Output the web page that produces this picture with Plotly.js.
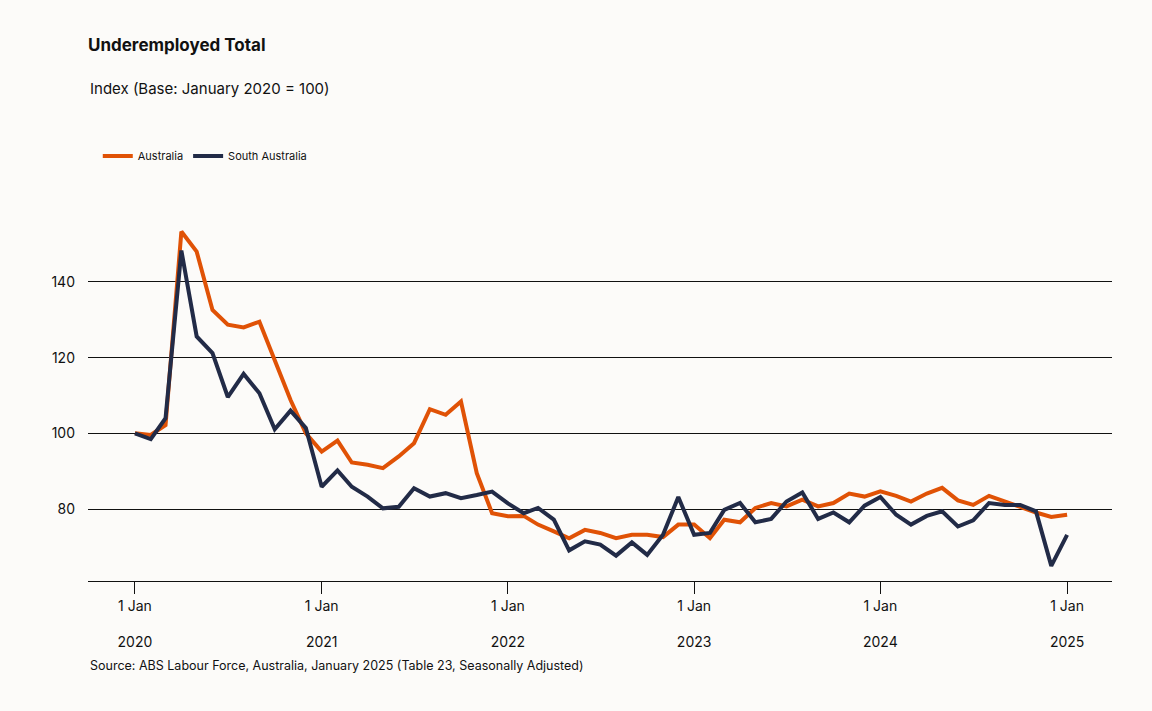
<!DOCTYPE html>
<html>
<head>
<meta charset="utf-8">
<script src="https://cdn.plot.ly/plotly-3.0.1.min.js"></script>
<style>
  body { margin: 0; background: #fcfbf9; }
  #chart { width: 1152px; height: 711px; }
</style>
</head>
<body>
<div id="chart"></div>
<script>
// Monthly, Jan 2020 to Jan 2025
const months = [];
for (let y = 2020; y <= 2025; y++) {
    for (let m = 1; m <= 12; m++) {
        if (y === 2025 && m > 1) break;
        months.push(`${y}-${String(m).padStart(2, '0')}-01`);
    }
}

const australia = [
    100, 99.6, 102.2, 153.3, 148, 132.6, 128.7, 128, 129.5, 119.4, 108.8, 100,
    95.2, 98.1, 92.3, 91.7, 90.8, 93.9, 97.4, 106.4, 104.9, 108.4, 89.5, 78.9,
    78.1, 78.2, 75.9, 74.1, 72.3, 74.5, 73.7, 72.3, 73.2, 73.2, 72.6, 75.9,
    75.9, 72.3, 77.2, 76.5, 80.3, 81.6, 80.7, 82.5, 80.7, 81.6, 84.1, 83.3,
    84.7, 83.5, 82, 84.1, 85.6, 82.3, 81.1, 83.5, 82, 80.7, 79.1, 77.9,
    78.5,
];
const southAustralia = [
    100, 98.5, 104, 148.3, 125.6, 121.2, 109.6, 115.7, 110.6, 101.1, 106, 101.4,
    85.9, 90.2, 85.9, 83.3, 80.2, 80.6, 85.5, 83.3, 84.2, 82.9, 83.7, 84.6,
    81.5, 78.9, 80.3, 77.2, 69.1, 71.5, 70.6, 67.7, 71.2, 67.9, 73.2, 83.2,
    73.2, 73.7, 79.8, 81.6, 76.5, 77.4, 82, 84.4, 77.4, 79.1, 76.5, 80.9,
    83.2, 78.5, 75.9, 78.2, 79.4, 75.4, 77, 81.6, 81.1, 81.1, 79.4, 65,
    73.2,
];

const tickDates = ['2020-01-01', '2021-01-01', '2022-01-01', '2023-01-01', '2024-01-01', '2025-01-01'];
const tickLabels = ['1 Jan<br><br>2020', '1 Jan<br><br>2021', '1 Jan<br><br>2022', '1 Jan<br><br>2023', '1 Jan<br><br>2024', '1 Jan<br><br>2025'];
const yTicks = [80, 100, 120, 140];

const font = 'Inter, "DejaVu Sans", sans-serif';

Plotly.newPlot(
    'chart',
    [
        {
            x: months,
            y: australia,
            mode: 'lines',
            name: 'Australia',
            line: { color: '#e05206', width: 4 },
        },
        {
            x: months,
            y: southAustralia,
            mode: 'lines',
            name: 'South Australia',
            line: { color: '#222b47', width: 4 },
        },
    ],
    {
        width: 1152,
        height: 711,
        paper_bgcolor: '#fcfbf9',
        plot_bgcolor: '#fcfbf9',
        font: { family: font, color: '#111', size: 14 },
        margin: { t: 210, b: 130, l: 88, r: 40 },
        title: {
            text: '<b>Underemployed Total</b>',
            x: 88 / 1152, xanchor: 'left',
            y: 1 - 45 / 711, yanchor: 'middle',
            font: { size: 17, family: font, color: '#111' },
        },
        annotations: [
            {
                text: 'Index (Base: January 2020 = 100)',
                xref: 'paper', yref: 'paper',
                x: 0, y: 1 + (210 - 88) / 371, xanchor: 'left', yanchor: 'middle',
                showarrow: false, font: { size: 15 },
            },
            {
                text: 'Source: ABS Labour Force, Australia, January 2025 (Table 23, Seasonally Adjusted)',
                xref: 'paper', yref: 'paper',
                x: 0, y: -(665 - 581) / 371, xanchor: 'left', yanchor: 'middle',
                showarrow: false, font: { size: 12.5 },
            },
        ],
        legend: {
            orientation: 'h',
            x: 110 / 1152 - 88 / 1024, y: 1 + (210 - 156) / 371,
            xanchor: 'left', yanchor: 'middle',
            font: { size: 11 },
            bgcolor: 'rgba(0,0,0,0)',
        },
        xaxis: {
            type: 'date',
            range: ['2019-10-01', '2025-03-30'],
            tickvals: tickDates,
            ticktext: tickLabels,
            showgrid: false,
            showline: true,
            linecolor: '#111',
            linewidth: 1,
            ticks: 'outside',
            ticklen: 12,
            tickcolor: '#111',
            tickfont: { size: 14 },
            zeroline: false,
        },
        yaxis: {
            range: [61, 159],
            tickvals: yTicks,
            showgrid: true,
            gridcolor: '#111',
            gridwidth: 1,
            showline: false,
            zeroline: false,
            ticks: '',
            ticklabelstandoff: 12,
            tickfont: { size: 14 },
        },
    },
    { displayModeBar: false },
);
</script>
</body>
</html>
